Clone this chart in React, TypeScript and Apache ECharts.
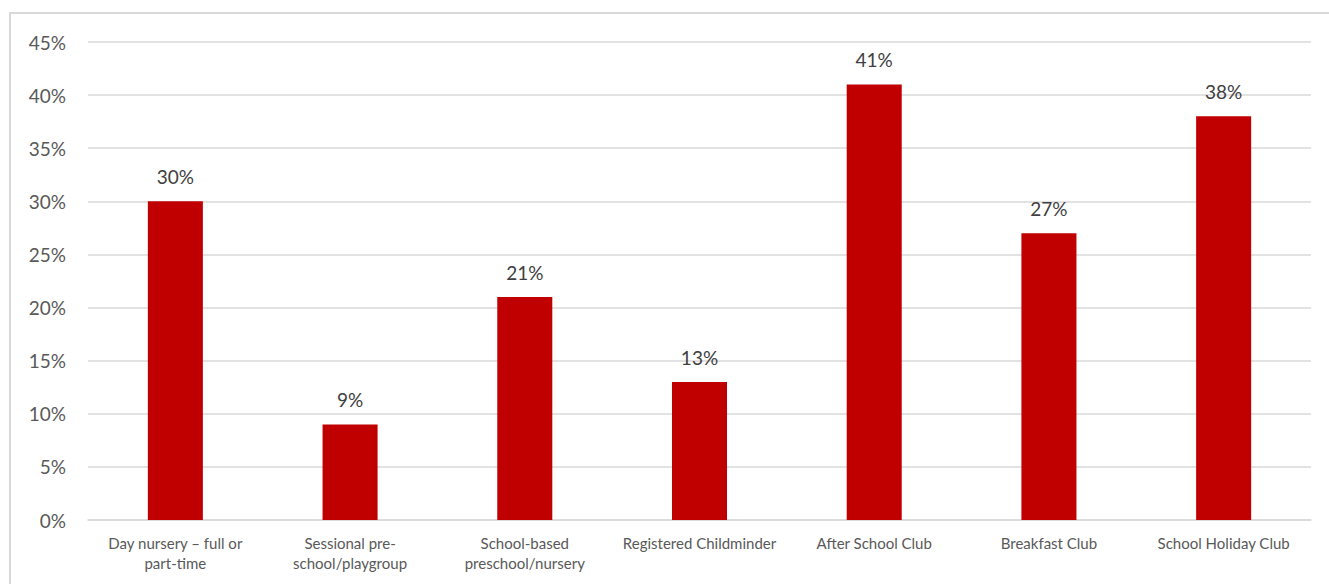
import React, { useEffect, useRef } from "react";
import * as echarts from "echarts";

const categories = [
  "Day nursery – full or\npart-time",
  "Sessional pre-\nschool/playgroup",
  "School-based\npreschool/nursery",
  "Registered Childminder",
  "After School Club",
  "Breakfast Club",
  "School Holiday Club",
];
const values = [30, 9, 21, 13, 41, 27, 38];

const FONT = "Lato, 'Open Sans', sans-serif";

export default function App() {
  const ref = useRef<HTMLDivElement>(null);
  useEffect(() => {
    if (!ref.current) return;
    const chart = echarts.init(ref.current, undefined, { renderer: "svg" });
    chart.setOption({
      animation: false,
      backgroundColor: "#ffffff",
      textStyle: { fontFamily: FONT },
      graphic: [
        {
          type: "rect",
          shape: { x: 10, y: 13, width: 1340, height: 600 },
          style: { fill: "none", stroke: "#d9d9d9", lineWidth: 2 },
          silent: true,
          z: 0,
        },
      ],
      grid: { left: 88, right: 18, top: 42, bottom: 64 },
      xAxis: {
        type: "category",
        data: categories,
        axisLine: { show: true, lineStyle: { color: "#d9d9d9", width: 1.5 } },
        axisTick: { show: false },
        axisLabel: {
          interval: 0,
          color: "#595959",
          fontSize: 15,
          lineHeight: 20,
          margin: 13,
          fontFamily: FONT,
        },
      },
      yAxis: {
        type: "value",
        min: 0,
        max: 45,
        interval: 5,
        axisLine: { show: false },
        axisTick: { show: false },
        splitLine: { lineStyle: { color: "#d9d9d9", width: 1.5 } },
        axisLabel: {
          color: "#595959",
          fontSize: 19,
          margin: 22,
          fontFamily: FONT,
          formatter: (v: number) => v + "%",
        },
      },
      series: [
        {
          type: "bar",
          data: values,
          barWidth: "31.5%",
          itemStyle: { color: "#c00000" },
          label: {
            show: true,
            position: "top",
            distance: 15,
            color: "#404040",
            fontSize: 19,
            fontFamily: FONT,
            formatter: (p: any) => p.value + "%",
          },
        },
      ],
    });
    return () => chart.dispose();
  }, []);
  return (
    <div
      ref={ref}
      style={{ position: "absolute", left: 0, top: 0, width: 1329, height: 584 }}
    />
  );
}
